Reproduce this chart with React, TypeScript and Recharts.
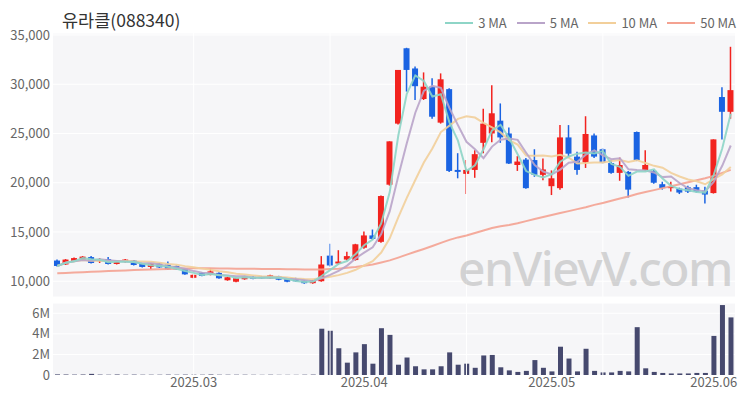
import React from 'react';
import { ComposedChart, Bar, Line, XAxis, YAxis, CartesianGrid, ReferenceLine } from 'recharts';

const dates = [
  '2025-02-07','2025-02-10','2025-02-11','2025-02-12','2025-02-13','2025-02-14','2025-02-17','2025-02-18','2025-02-19','2025-02-20',
  '2025-02-21','2025-02-24','2025-02-25','2025-02-26','2025-02-27','2025-02-28','2025-03-04','2025-03-05','2025-03-06','2025-03-07',
  '2025-03-10','2025-03-11','2025-03-12','2025-03-13','2025-03-14','2025-03-17','2025-03-18','2025-03-19','2025-03-20','2025-03-21',
  '2025-03-24','2025-03-25','2025-03-26','2025-03-27','2025-03-28','2025-03-31','2025-04-01','2025-04-02','2025-04-03','2025-04-04',
  '2025-04-07','2025-04-08','2025-04-09','2025-04-10','2025-04-11','2025-04-14','2025-04-15','2025-04-16','2025-04-17','2025-04-18',
  '2025-04-21','2025-04-22','2025-04-23','2025-04-24','2025-04-25','2025-04-28','2025-04-29','2025-04-30','2025-05-02','2025-05-07',
  '2025-05-08','2025-05-09','2025-05-12','2025-05-13','2025-05-14','2025-05-15','2025-05-16','2025-05-19','2025-05-20','2025-05-21',
  '2025-05-22','2025-05-23','2025-05-26','2025-05-27','2025-05-28','2025-05-29','2025-05-30','2025-06-02','2025-06-04','2025-06-05',
];

const opens = [
  12100, 11700, 12050, 12150, 12450, 12030, 12250, 11750, 11950, 12100,
  11800, 11450, 11800, 11700, 11550, 11250, 10350, 10850, 10650, 10850,
  10100, 9950, 10200, 10450, 10450, 10300, 10500, 10250, 10200, 10050,
  9800, 10000, 12600, 11800, 12200, 12150, 13400, 14650, 14000, 19800,
  26000, 33650, 31600, 28500, 29750, 26100, 29500, 21300, 20900, 21300,
  24050, 25000, 26300, 25000, 21800, 22350, 22300, 20800, 19650, 19450,
  24600, 22650, 22050, 24800, 23400, 22000, 21000, 21100, 25150, 21300,
  21200, 19850, 19450, 19400, 19550, 19550, 19200, 18950, 28700, 27200,
];

const highs = [
  12200, 12250, 12400, 12550, 12550, 12350, 12450, 12050, 12250, 12150,
  11850, 11850, 11850, 12000, 11600, 11300, 10700, 10900, 11300, 10900,
  10450, 10350, 10550, 10500, 10500, 10650, 10550, 10300, 10350, 10100,
  10150, 12550, 13800, 13150, 13000, 13800, 15050, 15250, 18700, 24200,
  31450, 33700, 31800, 31200, 30600, 31100, 29600, 23000, 22300, 23300,
  27500, 29900, 28050, 25600, 22700, 22500, 23400, 22450, 21250, 25850,
  25850, 23150, 26750, 25000, 23500, 22300, 22550, 21200, 25200, 23300,
  21300, 20100, 20100, 19500, 19700, 19800, 19600, 24400, 29700, 33800,
];

const lows = [
  11500, 11650, 12000, 12100, 11800, 11850, 11700, 11700, 11900, 11600,
  11400, 11250, 11350, 11150, 11150, 10650, 10300, 10500, 10600, 10250,
  10050, 9900, 10150, 10200, 10250, 10250, 10100, 9900, 9950, 9750,
  9750, 9950, 11500, 11700, 12100, 12100, 13300, 14200, 13900, 19700,
  25900, 29250, 28400, 28400, 26500, 26000, 21100, 20450, 18850, 20500,
  23000, 24100, 24050, 21900, 21200, 19400, 20600, 20250, 18750, 19300,
  22650, 20800, 21500, 22500, 21950, 20900, 20200, 18500, 22200, 21200,
  19900, 19300, 19100, 18850, 18950, 19000, 17900, 18900, 24400, 26500,
];

const closes = [
  11550, 12200, 12350, 12500, 11850, 12200, 11750, 12000, 12200, 11650,
  11450, 11800, 11400, 11200, 11200, 10700, 10650, 10550, 11000, 10300,
  10400, 10300, 10500, 10250, 10300, 10600, 10150, 9950, 10000, 9800,
  10100, 11700, 11600, 12000, 12550, 13750, 14650, 14300, 18650, 24200,
  31450, 31450, 29800, 29750, 26700, 30500, 21200, 21100, 21300, 22900,
  26000, 27050, 24600, 21950, 22150, 19450, 20800, 21350, 20450, 24600,
  22950, 21300, 24950, 22650, 22050, 21000, 21800, 19300, 22300, 21800,
  20000, 19450, 19600, 19000, 19100, 19100, 18800, 24400, 27200, 29400,
];

const volumes = [
  60000, 50000, 40000, 50000, 110000, 40000, 30000, 50000, 30000, 40000,
  30000, 30000, 30000, 40000, 30000, 40000, 30000, 30000, 50000, 30000,
  30000, 30000, 30000, 20000, 20000, 30000, 20000, 20000, 20000, 30000,
  40000, 4500000, 4300000, 2600000, 1200000, 2200000, 3000000, 1100000, 4550000, 3900000,
  1000000, 1700000, 850000, 550000, 550000, 850000, 2200000, 1000000, 1100000, 700000,
  1900000, 1950000, 750000, 450000, 300000, 400000, 1450000, 700000, 350000, 2750000,
  1600000, 350000, 2550000, 400000, 250000, 250000, 400000, 350000, 4650000, 650000,
  300000, 200000, 150000, 150000, 150000, 200000, 200000, 3800000, 6800000, 5600000,
];

// 50-day average (depends on days before the visible window)
const ma50Values = [
  10800, 10840, 10880, 10920, 10960, 11000, 11040, 11070, 11100, 11130,
  11160, 11190, 11220, 11250, 11280, 11300, 11320, 11320, 11310, 11300,
  11290, 11280, 11270, 11260, 11250, 11240, 11230, 11220, 11210, 11200,
  11200, 11200, 11230, 11270, 11360, 11450, 11570, 11700, 11900, 12120,
  12400, 12700, 13000, 13280, 13580, 13900, 14200, 14450, 14650, 14900,
  15150, 15400, 15580, 15720, 15880, 16100, 16320, 16520, 16720, 16920,
  17120, 17320, 17520, 17750, 17950, 18170, 18400, 18600, 18850, 19050,
  19250, 19450, 19650, 19850, 20050, 20250, 20450, 20700, 21000, 21300,
];

const priceTicks = [10000, 15000, 20000, 25000, 30000, 35000];
const volumeTicks = [0, 2000000, 4000000, 6000000];
const monthTicks = ['2025-03-04', '2025-04-01', '2025-05-02', '2025-06-02'];
const gridIndices = [16, 32, 48, 64];

const legendItems = [
  { name: '3 MA', color: '#8ed5c7' },
  { name: '5 MA', color: '#b9a4c9' },
  { name: '10 MA', color: '#f2cf9a' },
  { name: '50 MA', color: '#f4a291' },
];

const RED = '#f2231f';
const BLUE = '#1a63e2';

function movingAverage(values: number[], n: number): number[] {
  return values.map((_, i) => {
    const start = Math.max(0, i - n + 1);
    const win = values.slice(start, i + 1);
    return win.reduce((a, b) => a + b, 0) / win.length;
  });
}

const ma3 = movingAverage(closes, 3);
const ma5 = movingAverage(closes, 5);
const ma10 = movingAverage(closes, 10);

const data = dates.map((d, i) => ({
  date: d,
  open: opens[i],
  high: highs[i],
  low: lows[i],
  close: closes[i],
  range: [lows[i], highs[i]],
  volume: volumes[i],
  ma3: ma3[i],
  ma5: ma5[i],
  ma10: ma10[i],
  ma50: ma50Values[i],
}));

const Candle = (props: any) => {
  const { x, y, width, height, payload } = props;
  if (x == null || y == null || !payload) return null;
  const { open, close, high, low } = payload;
  const top = Math.min(y, y + height);
  const h = Math.abs(height);
  const toY = (p: number) => (high === low ? top : top + ((high - p) / (high - low)) * h);
  const up = close >= open;
  const color = up ? RED : BLUE;
  const cx = x + width / 2;
  const yO = toY(open);
  const yC = toY(close);
  const bodyTop = Math.min(yO, yC);
  const bodyH = Math.max(1.5, Math.abs(yO - yC));
  return (
    <g>
      <line x1={cx} x2={cx} y1={top} y2={top + h} stroke={color} strokeWidth={1.5} />
      <rect x={x} y={bodyTop} width={width} height={bodyH} fill={color} />
    </g>
  );
};

const fmtPrice = (v: number) => v.toLocaleString('en-US');
const fmtVol = (v: number) => (v === 0 ? '0' : `${v / 1000000}M`);
const fmtMonth = (d: string) => d.slice(0, 7).replace('-', '.');

const tickStyle = { fontSize: 13, fill: '#666' };

export default function App() {
  return (
    <div
      style={{
        position: 'absolute',
        left: 0,
        top: 0,
        width: 750,
        height: 400,
        background: '#fff',
        fontFamily: "'Noto Sans CJK KR', 'Noto Sans', sans-serif",
        overflow: 'hidden',
      }}
    >
      <div style={{ position: 'absolute', left: 0, top: 0 }}>
        <ComposedChart width={750} height={297} data={data} margin={{ top: 33, right: 15, left: 0, bottom: 0 }}>
          <CartesianGrid fill="#f6f6f8" stroke="#ffffff" vertical={false} />
          {gridIndices.map((i) => (
            <ReferenceLine key={i} x={dates[i]} stroke="#ffffff" strokeWidth={1} />
          ))}
          <XAxis dataKey="date" hide />
          <YAxis
            width={53}
            domain={[8400, 35200]}
            ticks={priceTicks}
            interval={0}
            tickFormatter={fmtPrice}
            axisLine={false}
            tickLine={false}
            tickSize={0}
            tickMargin={3}
            tick={tickStyle}
            allowDataOverflow
          />
          <Bar dataKey="range" barSize={6} shape={Candle} isAnimationActive={false} />
          <Line dataKey="ma50" stroke="#f4a291" strokeWidth={2} dot={false} strokeOpacity={0.9} isAnimationActive={false} />
          <Line dataKey="ma10" stroke="#f2cf9a" strokeWidth={2} dot={false} strokeOpacity={0.9} isAnimationActive={false} />
          <Line dataKey="ma5" stroke="#b9a4c9" strokeWidth={2} dot={false} strokeOpacity={0.9} isAnimationActive={false} />
          <Line dataKey="ma3" stroke="#8ed5c7" strokeWidth={2} dot={false} strokeOpacity={0.9} isAnimationActive={false} />
        </ComposedChart>
      </div>
      <div style={{ position: 'absolute', left: 0, top: 297 }}>
        <ComposedChart width={750} height={103} data={data} margin={{ top: 6, right: 15, left: 0, bottom: 0 }}>
          <CartesianGrid fill="#f6f6f8" stroke="#ffffff" vertical={false} />
          {gridIndices.map((i) => (
            <ReferenceLine key={i} x={dates[i]} stroke="#ffffff" strokeWidth={1} />
          ))}
          <XAxis
            dataKey="date"
            ticks={monthTicks}
            interval={0}
            tickFormatter={fmtMonth}
            axisLine={false}
            tickLine={false}
            tickSize={0}
            tickMargin={3}
            height={25}
            tick={tickStyle}
          />
          <YAxis
            width={53}
            domain={[0, 7000000]}
            ticks={volumeTicks}
            interval={0}
            tickFormatter={fmtVol}
            axisLine={false}
            tickLine={false}
            tickSize={0}
            tickMargin={3}
            tick={tickStyle}
          />
          <Bar dataKey="volume" barSize={5} fill="#46496e" isAnimationActive={false} />
        </ComposedChart>
      </div>
      <div style={{ position: 'absolute', left: 62, top: 8, fontSize: 17.5, color: '#333', lineHeight: '24px' }}>
        유라클(088340)
      </div>
      <div
        style={{
          position: 'absolute',
          right: 14,
          top: 14,
          display: 'flex',
          gap: 10,
          alignItems: 'center',
          fontSize: 13,
          color: '#666',
          lineHeight: '18px',
        }}
      >
        {legendItems.map((it) => (
          <div key={it.name} style={{ display: 'flex', alignItems: 'center', gap: 5 }}>
            <span style={{ display: 'inline-block', width: 28, height: 2, background: it.color }} />
            <span>{it.name}</span>
          </div>
        ))}
      </div>
      <div
        style={{
          position: 'absolute',
          left: 458,
          top: 238,
          fontSize: 48,
          color: 'rgba(175,175,175,0.5)',
          fontFamily: "'Noto Sans', sans-serif",
          fontWeight: 500,
          letterSpacing: -1.5,
          pointerEvents: 'none',
          lineHeight: '60px',
        }}
      >
        enVievV.com
      </div>
    </div>
  );
}
